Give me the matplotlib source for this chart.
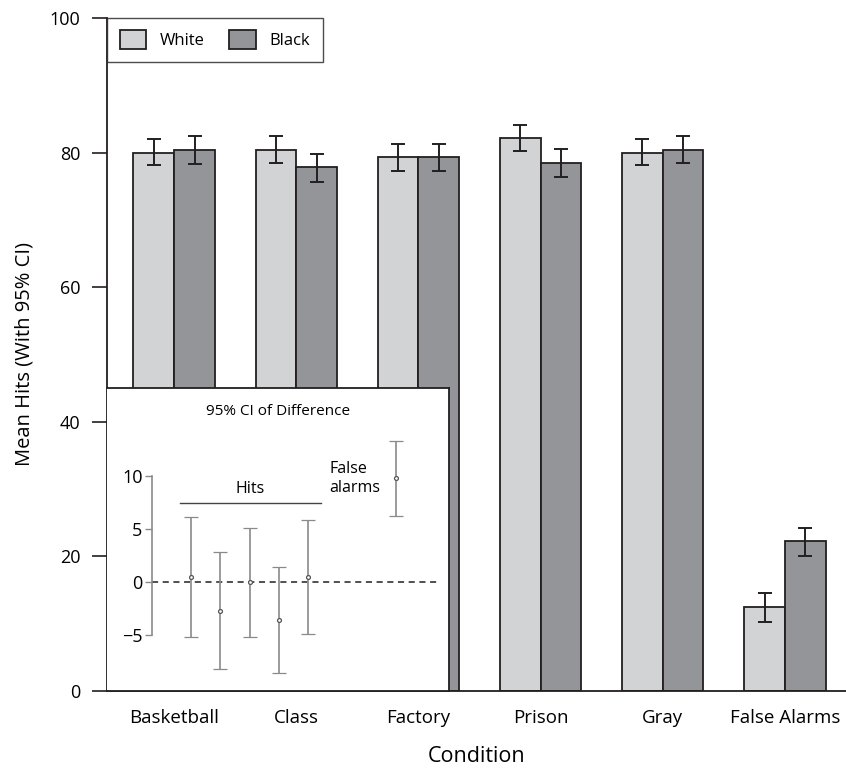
import matplotlib
matplotlib.use('Agg')
import matplotlib.pyplot as plt
import numpy as np

plt.rcParams['font.family'] = ['Open Sans', 'DejaVu Sans']

# main chart data
conditions = ['Basketball', 'Class', 'Factory', 'Prison', 'Gray', 'False Alarms']
white_means = [80.0, 80.4, 79.3, 82.1, 80.0, 12.5]
white_lo = [78.1, 78.4, 77.3, 80.2, 78.1, 10.3]
white_hi = [82.0, 82.4, 81.3, 84.1, 82.0, 14.5]
black_means = [80.4, 77.8, 79.3, 78.5, 80.4, 22.3]
black_lo = [78.3, 75.7, 77.3, 76.4, 78.4, 20.0]
black_hi = [82.5, 79.8, 81.3, 80.5, 82.5, 24.2]

# inset data: difference (Black - White) with 95% CI
diff_labels = ['Basketball', 'Class', 'Factory', 'Prison', 'Gray', 'False alarms']
diff_means = [0.5, -2.7, 0.0, -3.6, 0.5, 9.8]
diff_lo = [-5.2, -8.2, -5.2, -8.6, -4.9, 6.2]
diff_hi = [6.1, 2.8, 5.1, 1.4, 5.8, 13.3]

WHITE = '#d1d3d4'
BLACK = '#939598'
EDGE = '#231f20'

W, H = 846, 770
fig = plt.figure(figsize=(W / 100, H / 100), dpi=100)

# main axes (pixel box: left 107, right 846, top 18, bottom 691)
ax = fig.add_axes([107 / W, (H - 691) / H, (W - 107) / W, (691 - 18) / H])
x = np.arange(len(conditions))
bw = 1 / 3
wl = np.array(white_means)
bl = np.array(black_means)
ax.bar(x - bw / 2, wl, bw, color=WHITE, edgecolor=EDGE, linewidth=1.3, label='White', zorder=2)
ax.bar(x + bw / 2, bl, bw, color=BLACK, edgecolor=EDGE, linewidth=1.3, label='Black', zorder=2)
ax.errorbar(x - bw / 2, wl, yerr=[wl - np.array(white_lo), np.array(white_hi) - wl],
            fmt='none', ecolor=EDGE, elinewidth=1.4, capsize=5, capthick=1.4, zorder=3)
ax.errorbar(x + bw / 2, bl, yerr=[bl - np.array(black_lo), np.array(black_hi) - bl],
            fmt='none', ecolor=EDGE, elinewidth=1.4, capsize=5, capthick=1.4, zorder=3)

ax.set_xlim(-0.55, 5.5)
ax.set_ylim(0, 100)
ax.set_yticks([0, 20, 40, 60, 80, 100])
ax.set_xticks(x)
ax.set_xticklabels(conditions)
ax.tick_params(axis='x', length=0, pad=13, labelsize=13.5)
ax.tick_params(axis='y', length=11, width=1.2, direction='out', labelsize=13, pad=8, color=EDGE)
for s in ['top', 'right']:
    ax.spines[s].set_visible(False)
for s in ['left', 'bottom']:
    ax.spines[s].set_linewidth(1.3)
    ax.spines[s].set_color(EDGE)
ax.set_xlabel('Condition', fontsize=15.5, labelpad=14)
ax.set_ylabel('Mean Hits (With 95% CI)', fontsize=14.5, labelpad=11)

leg = ax.legend(loc='upper left', bbox_to_anchor=(0, 1), ncol=2, fontsize=12,
                frameon=True, fancybox=False, edgecolor=EDGE, borderaxespad=0,
                handlelength=1.6, handleheight=1.35, columnspacing=1.5,
                borderpad=0.75, handletextpad=0.8)
leg.get_frame().set_linewidth(1.0)

# inset axes (pixel box: left 107, right 449, top 388, bottom 691)
ai = fig.add_axes([107 / W, (H - 691) / H, (449 - 107) / W, (691 - 388) / H])
ai.set_facecolor('white')
ai.set_zorder(5)
xi = np.array([0, 1, 2, 3, 4, 7], dtype=float)
dm = np.array(diff_means)
ai.errorbar(xi, dm, yerr=[dm - np.array(diff_lo), np.array(diff_hi) - dm],
            fmt='o', ms=2.8, mfc='white', mec='#555555', mew=0.9,
            ecolor='#8a8a8a', elinewidth=1.2, capsize=5, capthick=1.2, zorder=3)
ai.plot([-1.33, 8.4], [0, 0], ls=(0, (4, 3)), color=EDGE, lw=1.1, zorder=2)
ai.plot([-0.375, 4.44], [7.45, 7.45], color='#444444', lw=1.0)
ai.text(2.0, 8.0, 'Hits', ha='center', va='bottom', fontsize=11.5)
ai.text(4.72, 9.7, 'False\nalarms', ha='left', va='center', fontsize=11.5, linespacing=1.25)
ai.text(2.97, 16.0, '95% CI of Difference', ha='center', va='center', fontsize=11)

ai.set_xlim(-2.87, 8.8)
ai.set_ylim(-10.25, 18.25)
ai.set_xticks([])
ai.set_yticks([-5, 0, 5, 10])
ai.spines['left'].set_position(('data', -1.33))
ai.spines['left'].set_bounds(-5, 10)
ai.spines['left'].set_color('#8a8a8a')
ai.spines['left'].set_linewidth(1.2)
for s in ['top', 'right', 'bottom']:
    ai.spines[s].set_color(EDGE)
    ai.spines[s].set_linewidth(1.3)
ai.tick_params(axis='y', length=5, width=1.0, color='#8a8a8a', labelsize=13, pad=2)

fig.savefig('out.png', dpi=100)
